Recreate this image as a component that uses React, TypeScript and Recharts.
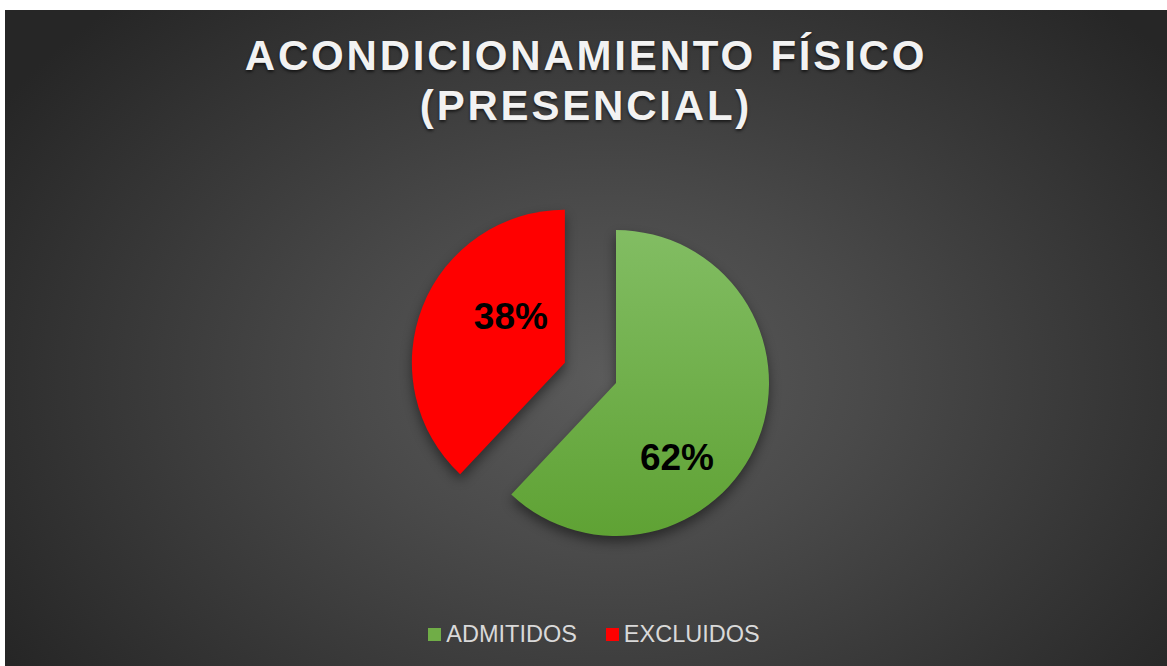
import React from 'react';
import { PieChart, Pie, Cell, Legend } from 'recharts';

const categories = ['ADMITIDOS', 'EXCLUIDOS'];
const values = [62, 38];
const percentLabels = ['62%', '38%'];
const titleLines = ['ACONDICIONAMIENTO FÍSICO', '(PRESENCIAL)'];

const sliceFills = ['url(#greenGrad)', '#ff0000'];
const legendColors = ['#70ad47', '#ff0000'];
const explodePx = [0, 55];
const labelShift = [
  [61, 74],
  [-54, -46],
];

const W = 1162;
const H = 656;
const CX = 611;
const CY = 373;
const R = 153;

const data = categories.map((name, i) => ({ name, value: values[i] }));
const total = values.reduce((a, b) => a + b, 0);

function sliceCenter(i: number) {
  const before = values.slice(0, i).reduce((a, b) => a + b, 0);
  const mid = 90 - (360 * (before + values[i] / 2)) / total;
  const rad = (mid * Math.PI) / 180;
  return {
    x: CX + explodePx[i] * Math.cos(rad),
    y: CY - explodePx[i] * Math.sin(rad),
  };
}

function makeLabel(visible: number) {
  return (props: any) => {
    if (props.index !== visible) return null;
    const c = sliceCenter(visible);
    return (
      <text
        x={c.x + labelShift[visible][0]}
        y={c.y + labelShift[visible][1]}
        textAnchor="middle"
        dominantBaseline="central"
        fill="#000000"
        fontFamily="'Liberation Sans', Arial, sans-serif"
        fontWeight="bold"
        fontSize={37}
      >
        {percentLabels[visible]}
      </text>
    );
  };
}

const LegendContent = () => (
  <div
    style={{
      display: 'flex',
      justifyContent: 'center',
      alignItems: 'center',
      fontFamily: "'Liberation Sans', Arial, sans-serif",
      fontSize: 23.5,
      color: '#d9d9d9',
      paddingLeft: 16,
    }}
  >
    {categories.map((c, i) => (
      <div key={c} style={{ display: 'flex', alignItems: 'center', marginRight: i === 0 ? 29 : 0 }}>
        <span style={{ width: 13, height: 13, background: legendColors[i], marginRight: 5, display: 'inline-block' }} />
        <span>{c}</span>
      </div>
    ))}
  </div>
);

export default function App() {
  return (
    <div
      style={{
        position: 'absolute',
        left: 5,
        top: 10,
        width: W,
        height: H,
        background: 'radial-gradient(ellipse 62% 78% at 52% 56%, #5b5b5b 0%, #4a4a4a 35%, #262626 100%)',
        overflow: 'hidden',
      }}
    >
      <div
        style={{
          position: 'absolute',
          top: 21,
          left: 0,
          width: W,
          textAlign: 'center',
          fontFamily: "'Liberation Sans', Arial, sans-serif",
          fontWeight: 'bold',
          fontSize: 42,
          lineHeight: '50px',
          letterSpacing: 2.8,
          color: '#f2f2f2',
          textShadow: '0px 2px 3px rgba(0,0,0,0.6)',
          zIndex: 2,
          pointerEvents: 'none',
        }}
      >
        {titleLines.map((t) => (
          <div key={t}>{t}</div>
        ))}
      </div>
      <PieChart width={W} height={H} margin={{ top: 0, right: 0, bottom: 0, left: 0 }}>
        <defs>
          <linearGradient id="greenGrad" x1="0" y1="0" x2="0" y2="1">
            <stop offset="0%" stopColor="#82bd63" />
            <stop offset="100%" stopColor="#5fa234" />
          </linearGradient>
        </defs>
        {categories.map((c, vis) => {
          const center = sliceCenter(vis);
          return (
            <Pie
              key={c}
              data={data}
              dataKey="value"
              nameKey="name"
              cx={center.x}
              cy={center.y}
              outerRadius={R}
              innerRadius={0}
              startAngle={90}
              endAngle={-270}
              stroke="none"
              isAnimationActive={false}
              labelLine={false}
              label={makeLabel(vis)}
            >
              {data.map((d, i) => (
                <Cell
                  key={d.name}
                  fill={i === vis ? sliceFills[i] : 'transparent'}
                  stroke="none"
                  style={i === vis ? { filter: 'drop-shadow(0px 6px 6px rgba(0,0,0,0.45))' } : undefined}
                />
              ))}
            </Pie>
          );
        })}
        <Legend content={<LegendContent />} wrapperStyle={{ position: 'absolute', top: 611, left: 0, width: W }} />
      </PieChart>
    </div>
  );
}
